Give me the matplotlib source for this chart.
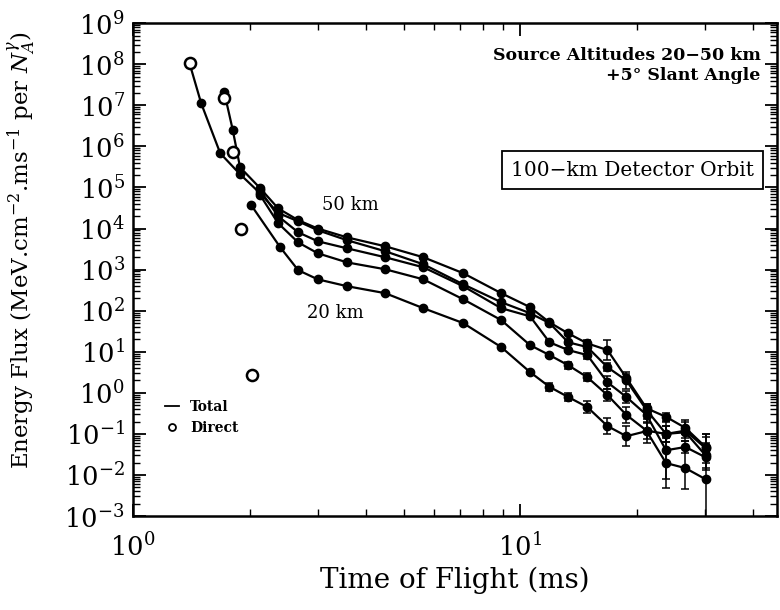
import matplotlib.pyplot as plt
import numpy as np
from matplotlib.ticker import LogLocator, NullFormatter
from matplotlib.lines import Line2D

plt.rcParams['font.family'] = 'DejaVu Serif'
plt.rcParams['mathtext.fontset'] = 'dejavuserif'

# ---- data (time of flight in ms, energy flux)
t_late = [10.6, 11.9, 13.3, 14.9, 16.8, 18.8, 21.2, 23.8, 26.7, 30.1]

t_s1 = [1.72, 1.81, 1.89, 2.13, 2.37, 2.67, 3.0, 3.57, 4.48, 5.62, 7.12, 8.93] + t_late
f_s1 = [2.1e7, 2.5e6, 3.1e5, 9.6e4, 3.1e4, 1.6e4, 1.0e4, 6.1e3, 3.7e3, 2.0e3, 820, 267,
        122, 52, 28, 16, 11, 2.3, 0.42, 0.26, 0.14, 0.048]

t_s2 = [1.40, 1.50, 1.68, 1.89, 2.13, 2.37, 2.67, 3.0, 3.57, 4.48, 5.62, 7.12, 8.93] + t_late
f_s2 = [1.05e8, 1.12e7, 6.8e5, 2.1e5, 7.2e4, 2.4e4, 1.5e4, 9.1e3, 5.2e3, 2.8e3, 1.35e3, 440, 161,
        87, 50, 17, 13, 4.2, 2.0, 0.38, 0.10, 0.11, 0.030]

t_s3 = [2.13, 2.37, 2.67, 3.0, 3.57, 4.48, 5.62, 7.12, 8.93] + t_late
f_s3 = [8.5e4, 2.0e4, 8.1e3, 4.9e3, 3.3e3, 2.0e3, 1.14e3, 395, 115,
        73, 17, 11, 8.3, 1.8, 0.79, 0.29, 0.040, 0.048, 0.027]

t_s4 = [2.13, 2.37, 2.67, 3.0, 3.57, 4.48, 5.62, 7.12, 8.93] + t_late
f_s4 = [6.5e4, 1.35e4, 4.6e3, 2.5e3, 1.5e3, 1.02e3, 580, 190, 59,
        14.5, 8.3, 4.7, 2.4, 0.88, 0.29, 0.12, 0.10, 0.12, 0.045]

t_s5 = [2.02, 2.40, 2.67, 3.0, 3.57, 4.48, 5.62, 7.12, 8.93] + t_late
f_s5 = [3.7e4, 3.5e3, 970, 580, 395, 267, 115, 50, 13,
        3.2, 1.4, 0.79, 0.45, 0.155, 0.088, 0.117, 0.0195, 0.0147, 0.0079]

# error bar half-widths (in decades) on the late points
err_s1 = [0.03, 0.04, 0.05, 0.08, 0.25, 0.10, 0.10, 0.10, 0.15, 0.25]
err_s2 = [0.03, 0.05, 0.05, 0.10, 0.10, 0.20, 0.15, 0.20, 0.15, 0.30]
err_s3 = [0.03, 0.05, 0.05, 0.10, 0.15, 0.15, 0.20, 0.70, 0.15, 0.30]
err_s4 = [0.03, 0.05, 0.08, 0.10, 0.15, 0.20, 0.20, 0.20, 0.25, 0.35]
err_s5 = [0.05, 0.10, 0.10, 0.15, 0.20, 0.25, 0.30, 0.60, 0.50, 1.10]

# direct (unscattered) flux
t_direct = [1.40, 1.72, 1.81, 1.90, 2.03]
f_direct = [1.05e8, 1.5e7, 7.2e5, 1.0e4, 2.7]

series = [(t_s1, f_s1, err_s1), (t_s2, f_s2, err_s2), (t_s3, f_s3, err_s3),
          (t_s4, f_s4, err_s4), (t_s5, f_s5, err_s5)]

fig = plt.figure(figsize=(7.8, 6.1), dpi=100)
ax = fig.add_axes([0.1705, 0.154, 0.8255, 0.808])

for t, f, e in series:
    f = np.array(f)
    d = np.zeros(len(f))
    d[-len(e):] = e
    lo = f - f * 10**(-d)
    hi = f * 10**d - f
    ax.errorbar(t, f, yerr=[lo, hi], fmt='-o', color='black', lw=1.6, ms=6,
                elinewidth=1.1, capsize=3, capthick=1.1)

ax.plot(t_direct, f_direct, 'o', ms=8, mfc='white', mec='black', mew=1.8, zorder=5)

ax.set_xscale('log')
ax.set_yscale('log')
ax.set_xlim(1, 46)
ax.set_ylim(1e-3, 1e9)

ax.yaxis.set_major_locator(LogLocator(base=10, numticks=20))
ax.yaxis.set_minor_locator(LogLocator(base=10, subs=np.arange(2, 10), numticks=200))
ax.xaxis.set_minor_locator(LogLocator(base=10, subs=np.arange(2, 10), numticks=50))
ax.xaxis.set_minor_formatter(NullFormatter())
ax.yaxis.set_minor_formatter(NullFormatter())

ax.tick_params(which='both', direction='in', top=True, right=True, labelsize=18.5)
ax.tick_params(which='major', length=9, width=1.3)
ax.tick_params(which='minor', length=5, width=1.0)
ax.tick_params(axis='x', pad=12)
ax.tick_params(axis='y', pad=6)
for s in ax.spines.values():
    s.set_linewidth(1.8)

ax.set_xlabel('Time of Flight (ms)', fontsize=20, labelpad=4)
ax.set_ylabel(r'Energy Flux (MeV.cm$^{-2}$.ms$^{-1}$ per $N_A^{\gamma}$)', fontsize=16.5)
ax.yaxis.set_label_coords(-0.148, 0.54)

ax.text(0.975, 0.935, 'Source Altitudes 20\u221250 km', transform=ax.transAxes,
        ha='right', va='center', fontsize=12.5, fontweight='bold')
ax.text(0.975, 0.893, '+5\u00b0 Slant Angle', transform=ax.transAxes,
        ha='right', va='center', fontsize=12.5, fontweight='bold')
ax.text(0.776, 0.702, '100\u2212km Detector Orbit', transform=ax.transAxes,
        ha='center', va='center', fontsize=14.5,
        bbox=dict(boxstyle='square,pad=0.45', fc='white', ec='black', lw=1.3))
ax.text(0.293, 0.632, '50 km', transform=ax.transAxes, ha='left', va='center', fontsize=13)
ax.text(0.27, 0.413, '20 km', transform=ax.transAxes, ha='left', va='center', fontsize=13)

handles = [Line2D([], [], color='black', lw=1.3),
           Line2D([], [], ls='none', marker='o', ms=5, mfc='white', mec='black', mew=1.3)]
ax.legend(handles, ['Total', 'Direct'], loc='lower left', bbox_to_anchor=(0.03, 0.14),
          frameon=False, handlelength=1.0, handletextpad=0.8,
          labelspacing=0.5, prop={'weight': 'bold', 'size': 10})

fig.savefig('out.png', dpi=100)
